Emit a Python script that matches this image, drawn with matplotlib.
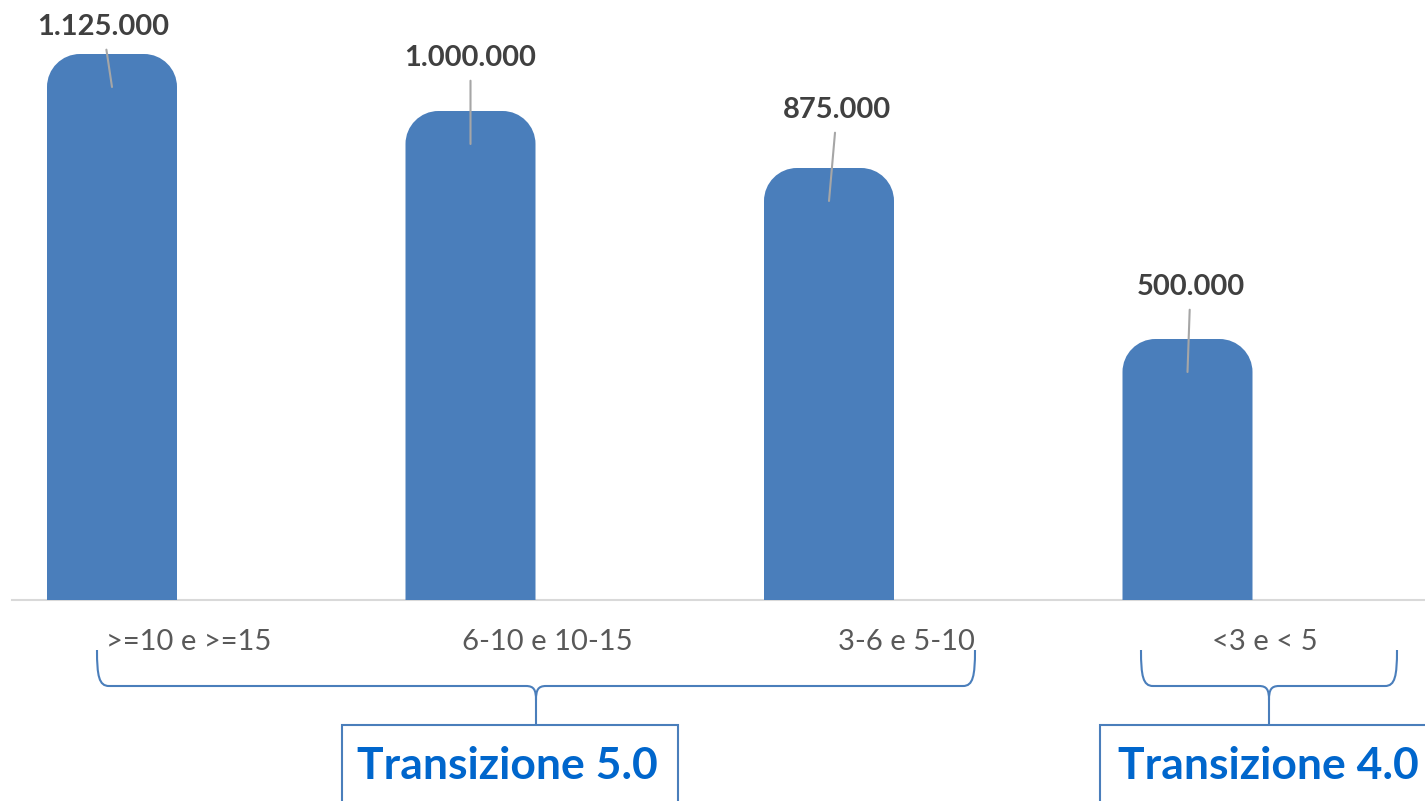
import matplotlib.pyplot as plt
from matplotlib.patches import Rectangle, PathPatch
from matplotlib.path import Path
from matplotlib.transforms import Affine2D, ScaledTranslation

categories = [">=10 e >=15", "6-10 e 10-15", "3-6 e 5-10", "<3 e < 5"]
values = [1125000, 1000000, 875000, 500000]
value_labels = ["1.125.000", "1.000.000", "875.000", "500.000"]
groups = ["Transizione 5.0", "Transizione 4.0"]

plt.rcParams['font.family'] = ['Lato', 'DejaVu Sans']

W, H = 1425, 801
fig = plt.figure(figsize=(W / 100, H / 100), dpi=100)
ax = fig.add_axes([0, 0, 1, 1])

# pixel layout taken from the original slide
x0_px, step_px = 112, 358.5
base_px, px_per_unit = 600, 0.000456
ax.set_xlim(-x0_px / step_px, (W - x0_px) / step_px)
ax.set_ylim(-(H - base_px) / px_per_unit, base_px / px_per_unit)

bar_color = '#4a7ebb'
width = 130 / step_px
cap_px = 33
rx = cap_px / step_px
ry = cap_px / px_per_unit
k = 0.5523

xs = list(range(len(values)))
bars = ax.bar(xs, values, width=width, color=bar_color, zorder=3)
# redraw each bar as one shape with a rounded top added above the value
for b in bars:
    b.set_visible(False)
    x_l = b.get_x()
    x_r = x_l + b.get_width()
    v = b.get_height()
    top = v + ry
    verts = [(x_l, 0), (x_l, top - ry),
             (x_l, top - ry + k * ry), (x_l + rx - k * rx, top), (x_l + rx, top),
             (x_r - rx, top),
             (x_r - rx + k * rx, top), (x_r, top - ry + k * ry), (x_r, top - ry),
             (x_r, 0), (x_l, 0)]
    codes = [Path.MOVETO, Path.LINETO,
             Path.CURVE4, Path.CURVE4, Path.CURVE4,
             Path.LINETO,
             Path.CURVE4, Path.CURVE4, Path.CURVE4,
             Path.LINETO, Path.CLOSEPOLY]
    ax.add_patch(PathPatch(Path(verts, codes), fc=bar_color, ec='none', zorder=3))

# data labels with leader lines
label_offsets = [(-9, 60), (0, 86), (8, 91), (3, 85)]
for x, v, txt, off in zip(xs, values, value_labels, label_offsets):
    ax.annotate(txt, xy=(x, v), xytext=off, textcoords='offset pixels',
                ha='center', va='center', fontsize=21, fontweight='bold', color='#404040',
                arrowprops=dict(arrowstyle='-', color='#a6a6a6', lw=1.5,
                                shrinkA=5, shrinkB=0), zorder=4)

# axis
for s in ['top', 'right', 'left']:
    ax.spines[s].set_visible(False)
ax.spines['bottom'].set_position(('data', 0))
ax.spines['bottom'].set_color('#d9d9d9')
ax.spines['bottom'].set_linewidth(1.5)
ax.spines['bottom'].set_bounds((12 - x0_px) / step_px, (W - x0_px) / step_px)
ax.set_yticks([])
ax.set_xticks(xs, categories)
ax.tick_params(axis='x', length=0, pad=21, labelsize=21, labelcolor='#595959')
for lbl in ax.get_xticklabels():
    lbl.set_transform(lbl.get_transform() + ScaledTranslation(0.77, 0, fig.dpi_scale_trans))

# braces and group boxes, in slide pixels (origin top-left)
px = Affine2D().scale(1 / W, -1 / H).translate(0, 1) + fig.transFigure
line_color = '#4a7ebb'


def brace(xa, xb, ytop=650, yh=686, ybot=725):
    xm = (xa + xb) / 2
    verts = [(xa, ytop), (xa, yh - 10), (xa + 2, yh), (xa + 12, yh),
             (xm - 10, yh), (xm - 2, yh), (xm, yh + 4), (xm, yh + 14),
             (xm, ybot),
             (xm, yh + 14), (xm, yh + 4), (xm + 2, yh), (xm + 10, yh),
             (xb - 12, yh), (xb - 2, yh), (xb, yh - 10), (xb, ytop)]
    codes = [Path.MOVETO, Path.CURVE4, Path.CURVE4, Path.CURVE4,
             Path.LINETO, Path.CURVE4, Path.CURVE4, Path.CURVE4,
             Path.LINETO,
             Path.MOVETO, Path.CURVE4, Path.CURVE4, Path.CURVE4,
             Path.LINETO, Path.CURVE4, Path.CURVE4, Path.CURVE4]
    fig.patches.append(PathPatch(Path(verts, codes), fc='none', ec=line_color,
                                 lw=1.5, transform=px))


brace(97, 975)
brace(1141, 1397)

boxes = [(342, 678), (1100, 1440)]
text_x = [507, 1268]
for (bx0, bx1), tx, g in zip(boxes, text_x, groups):
    fig.patches.append(Rectangle((bx0, 725), bx1 - bx0, 100, fc='white', ec=line_color,
                                 lw=1.5, transform=px))
    fig.text(tx / W, 1 - 766 / H, g, ha='center', va='center', fontsize=32,
             fontweight='bold', color='#0066cc')

fig.savefig('out.png', dpi=100)
